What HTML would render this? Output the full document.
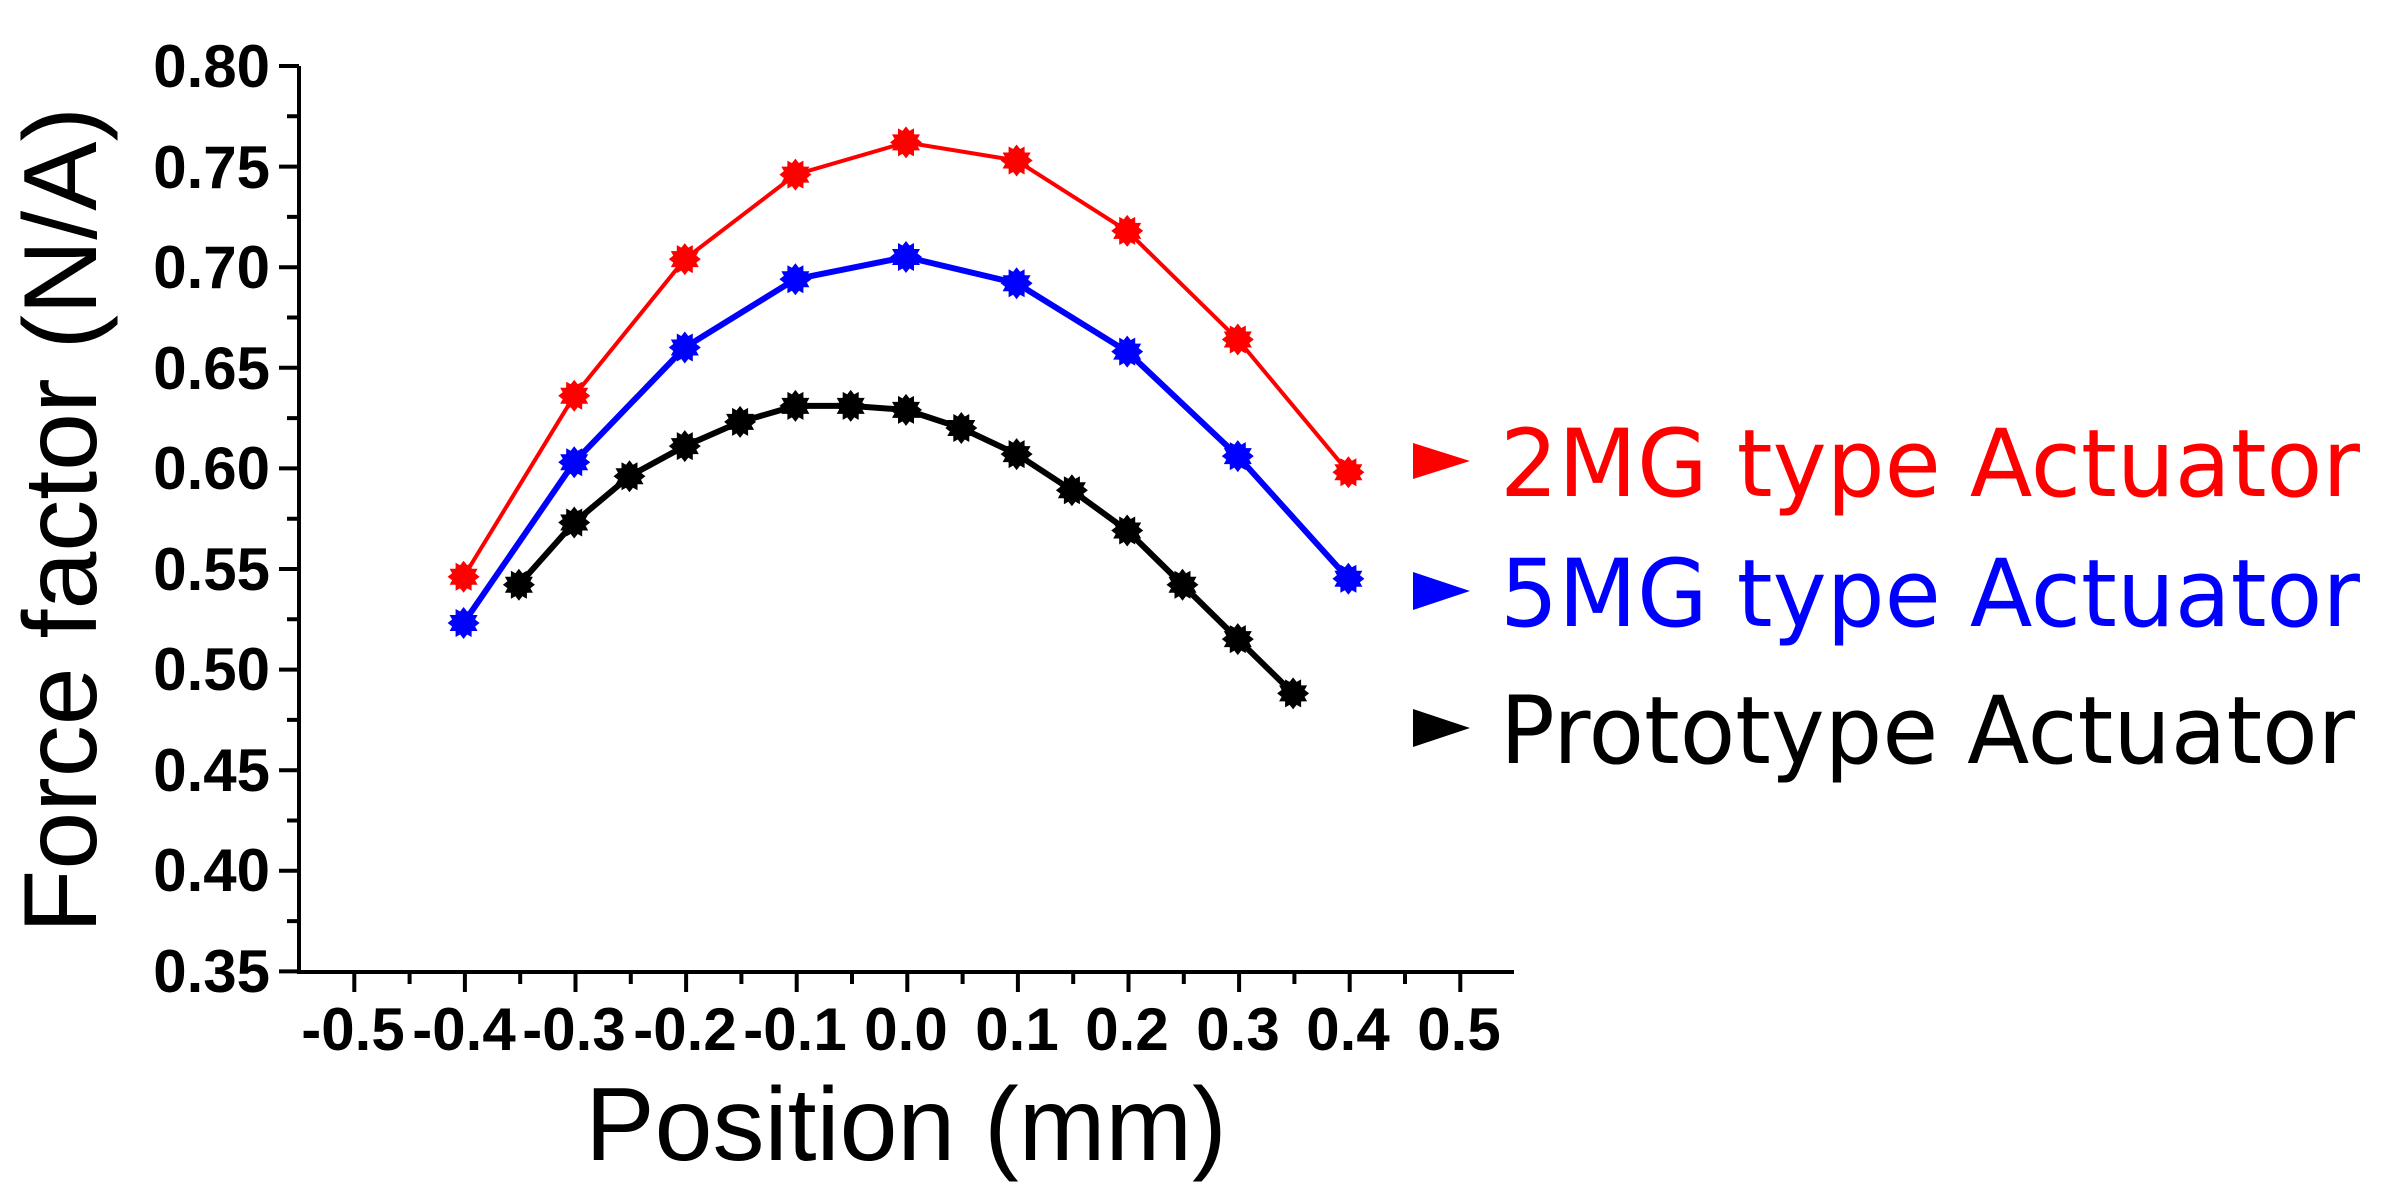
<!DOCTYPE html>
<html><head><meta charset="utf-8"><style>
html,body{margin:0;padding:0;background:#fff;}
svg{display:block;}
</style></head><body>
<svg id="s" width="2393" height="1204" viewBox="0 0 2393 1204" xmlns="http://www.w3.org/2000/svg">
<defs>
<g id="mk"><polygon points="0,-16 3.5,-11.5 8,-14 8,-8 14,-8 11.5,-3.5 16,0 11.5,3.5 14,8 8,8 8,14 3.5,11.5 0,16 -3.5,11.5 -8,14 -8,8 -14,8 -11.5,3.5 -16,0 -11.5,-3.5 -14,-8 -8,-8 -8,-14 -3.5,-11.5"/><circle r="11.5"/></g>
</defs>
<g id="axes" stroke="#000" stroke-width="4" fill="none"></g>
<g font-family="Liberation Sans, Arial, sans-serif" font-weight="bold" font-size="60" fill="#000">
<g text-anchor="end">
<text x="270" y="87">0.80</text><text x="270" y="188">0.75</text><text x="270" y="288">0.70</text>
<text x="270" y="389">0.65</text><text x="270" y="489">0.60</text><text x="270" y="590">0.55</text>
<text x="270" y="690">0.50</text><text x="270" y="791">0.45</text><text x="270" y="891">0.40</text>
<text x="270" y="992">0.35</text>
</g>
<g text-anchor="middle">
<text x="353" y="1050">-0.5</text><text x="464" y="1050">-0.4</text><text x="574" y="1050">-0.3</text>
<text x="685" y="1050">-0.2</text><text x="795" y="1050">-0.1</text><text x="906" y="1050">0.0</text>
<text x="1017" y="1050">0.1</text><text x="1127" y="1050">0.2</text><text x="1238" y="1050">0.3</text>
<text x="1348" y="1050">0.4</text><text x="1459" y="1050">0.5</text>
</g>
</g>
<g font-family="Liberation Sans, Arial, sans-serif" font-size="104" fill="#000">
<text x="906" y="1160" text-anchor="middle">Position (mm)</text>
<text transform="translate(96,520) rotate(-90)" text-anchor="middle">Force factor (N/A)</text>
</g>
<g id="data"></g>
<g font-family="DejaVu Sans, Liberation Sans, sans-serif" font-size="94">
<polygon points="1413,443 1470,461 1413,479" fill="#f00"/>
<text x="1500" y="496" fill="#f00" textLength="860" lengthAdjust="spacingAndGlyphs">2MG type Actuator</text>
<polygon points="1413,572 1470,591 1413,610" fill="#00f"/>
<text x="1500" y="626" fill="#00f" textLength="860" lengthAdjust="spacingAndGlyphs">5MG type Actuator</text>
<polygon points="1413,709 1470,728 1413,747" fill="#000"/>
<text x="1500" y="763" fill="#000" textLength="855" lengthAdjust="spacingAndGlyphs">Prototype Actuator</text>
</g>
</svg>
<script>
var NS="http://www.w3.org/2000/svg";
function X(v){return 906+v*1106;}
function Y(v){return 66+(0.80-v)*2011;}
var ax=document.getElementById("axes"),d="M299,66 L299,972 L1514,972";
for(var i=0;i<=18;i++){var y=66+i*50.3;d+=" M299,"+y.toFixed(1)+" L"+(i%2==0?279:287)+","+y.toFixed(1);}
for(var i=0;i<=21;i++){var x=299+i*55.3;if(i==0)continue;d+=" M"+x.toFixed(1)+",972 L"+x.toFixed(1)+","+(i%2==1?992:984);}
var p=document.createElementNS(NS,"path");p.setAttribute("d",d);ax.appendChild(p);
var S=[["#f00",4,[[-0.4,.546],[-0.3,.636],[-0.2,.704],[-0.1,.746],[0,.762],[0.1,.753],[0.2,.718],[0.3,.664],[0.4,.598]]],
["#00f",6,[[-0.4,.523],[-0.3,.603],[-0.2,.660],[-0.1,.694],[0,.705],[0.1,.692],[0.2,.658],[0.3,.606],[0.4,.545]]],
["#000",6,[[-0.35,.542],[-0.3,.573],[-0.25,.596],[-0.2,.611],[-0.15,.623],[-0.1,.631],[-0.05,.631],[0,.629],[0.05,.620],[0.1,.607],[0.15,.589],[0.2,.569],[0.25,.542],[0.3,.515],[0.35,.488]]]];
var g=document.getElementById("data");
S.forEach(function(s){var pts=s[2].map(function(q){return X(q[0]).toFixed(1)+","+Y(q[1]).toFixed(1);}).join(" ");
var pl=document.createElementNS(NS,"polyline");pl.setAttribute("points",pts);pl.setAttribute("fill","none");pl.setAttribute("stroke",s[0]);pl.setAttribute("stroke-width",s[1]);g.appendChild(pl);
s[2].forEach(function(q){var u=document.createElementNS(NS,"use");u.setAttribute("href","#mk");u.setAttribute("fill",s[0]);u.setAttribute("transform","translate("+X(q[0]).toFixed(1)+","+Y(q[1]).toFixed(1)+")");g.appendChild(u);});});
</script>
</body></html>
